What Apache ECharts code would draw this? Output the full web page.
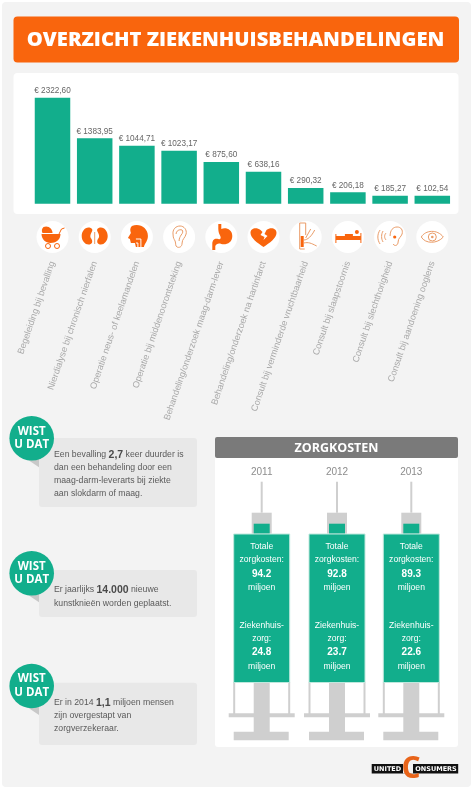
<!DOCTYPE html>
<html>
<head>
<meta charset="utf-8">
<title>Overzicht ziekenhuisbehandelingen</title>
<style>
  html, body { margin: 0; padding: 0; background: #fff; }
  #main { width: 474px; height: 792px; }
</style>
<script src="https://cdn.jsdelivr.net/npm/echarts@6/dist/echarts.min.js"></script>
</head>
<body>
<div id="main"></div>
<script>
const categories = [
  'Begeleiding bij bevalling',
  'Nierdialyse bij chronisch nierfalen',
  'Operatie neus- of keelamandelen',
  'Operatie bij middenoorontsteking',
  'Behandeling/onderzoek maag-darm-lever',
  'Behandeling/onderzoek na hartinfarct',
  'Consult bij verminderde vruchtbaarheid',
  'Consult bij slaapstoornis',
  'Consult bij slechthorigheid',
  'Consult bij aandoening ooglens'
]
// printed amounts
const amountLabels = ['2322,60', '1383,95', '1044,71', '1023,17', '875,60', '638,16', '290,32', '206,18', '185,27', '102,54']
// the source bars are not to scale with the printed amounts, so these are read off the bar heights
const barLevels = [2322.6, 1433, 1271, 1161, 914, 701, 344, 250, 175, 175]

const years = ['2011', '2012', '2013']
const totalCosts = ['94.2', '92.8', '89.3']
const hospitalCosts = ['24.8', '23.7', '22.6']

const facts = [
  ['Een bevalling {b|2,7} keer duurder is', 'dan een behandeling door een', 'maag-darm-leverarts bij ziekte', 'aan slokdarm of maag.'],
  ['Er jaarlijks {b|14.000} nieuwe', 'kunstknieën worden geplaatst.'],
  ['Er in 2014 {b|1,1} miljoen mensen', 'zijn overgestapt van', 'zorgverzekeraar.']
]

const GREEN = '#12ae8c'
const ORANGE = '#f9650d'
const PALE = '#ea9c68'
const GREY = '#cfcfcf'
const SANS = 'Arial, "Liberation Sans", sans-serif'
const HEAD = '"Open Sans", sans-serif'

const gridLeft = 31.4
const gridWidth = 422
const bandWidth = gridWidth / categories.length

// icon outlines, drawn around 0,0
const icons = [
  [
    { d: 'M-9 -10C-4 -12 0 -8 0 -4L-10 -4C-11 -6 -11 -8 -9 -10Z', fill: ORANGE },
    { d: 'M-11 -3L8 -3C8 3 3 6 -2 6C-7 6 -11 2 -11 -3Z', fill: ORANGE },
    { d: 'M6 -2L9 -8L12 -9', line: ORANGE },
    { d: 'M-2 9a2.5 2.5 0 1 0 -5 0a2.5 2.5 0 1 0 5 0M7 9a2.5 2.5 0 1 0 -5 0a2.5 2.5 0 1 0 5 0', line: ORANGE }
  ],
  [
    { d: 'M-4 -9C-9 -11 -13 -6 -13 -1C-13 5 -8 9 -4 7C-2 6 -2 3 -4 1C-5 -1 -4 -3 -3 -5C-2 -7 -2 -8 -4 -9Z', fill: ORANGE },
    { d: 'M4 -9C9 -11 13 -6 13 -1C13 5 8 9 4 7C2 6 2 3 4 1C5 -1 4 -3 3 -5C2 -7 2 -8 4 -9Z', fill: ORANGE },
    { d: 'M0 -5L0 7', line: PALE }
  ],
  [
    { d: 'M-5 -11C3 -14 11 -9 11 -1C11 4 8 6 7 10L-1 10L-2 6L-6 6L-7 2L-9 1L-6 -4C-7 -7 -7 -9 -5 -11Z', fill: ORANGE },
    { d: 'M-1 2L4 2L4 12M-1 6L1 6L1 12', line: '#fff' }
  ],
  [
    { d: 'M-6 -2C-7 -8 -3 -11 1 -11C5 -11 8 -7 7 -3C6 1 3 2 3 6C3 10 0 11 -2 10C-4 9 -3 7 -4 4C-5 2 -6 1 -6 -2Z', line: PALE },
    { d: 'M-3 -3C-3 -6 0 -8 3 -7C4 -6 4 -4 2 -2C1 0 0 1 0 4', line: PALE }
  ],
  [
    { d: 'M-3 -13L0 -13L0 -8C4 -10 11 -8 11 -1C11 6 5 8 0 7C-3 6 -5 7 -6 9L-6 13L-9 13L-9 7C-9 2 -6 1 -3 2C-1 3 0 1 -1 -1C-2 -3 -3 -5 -3 -8Z', fill: ORANGE }
  ],
  [
    { d: 'M0 10C-6 6 -13 1 -13 -4C-13 -9 -7 -10 -3 -7L-1 -5L-3 -2L1 0L0 3L4 -1L1 -3L3 -7C7 -10 13 -9 13 -4C13 1 6 6 0 10Z', fill: ORANGE }
  ],
  [
    { d: 'M-6 -14L0 -14L0 -2M-6 -14L-6 12L-1 12', line: PALE },
    { d: 'M-5 -1L-2 -1L-2 10L-5 10Z', fill: ORANGE },
    { d: 'M-2 3C2 3 6 -1 9 -7M-2 6C3 5 5 6 11 9M0 1L5 -8', line: PALE }
  ],
  [
    { d: 'M-12 -3L-12 6M13 -4L13 6', line: ORANGE },
    { d: 'M-12 -1L-3 -1L-3 -3L5 -3L5 -1L13 -1L13 3L-12 3Z', fill: ORANGE },
    { d: 'M7 -5a2 2 0 1 0 4 0a2 2 0 1 0 -4 0Z', fill: ORANGE }
  ],
  [
    { d: 'M0 -1C0 -7 3 -10 7 -10C11 -10 13 -7 12 -3C11 0 8 1 8 5C8 8 5 10 3 7', line: PALE },
    { d: 'M3 0a1.6 1.6 0 1 0 3.2 0a1.6 1.6 0 1 0 -3.2 0Z', fill: ORANGE },
    { d: 'M-4 -4C-6 -2 -6 1 -4 3M-7 -6C-9 -3 -9 2 -7 5M-10 -7C-13 -3 -13 3 -10 7', line: PALE }
  ],
  [
    { d: 'M-11 0C-7 -7 5 -8 11 0C5 7 -7 7 -11 0Z', line: PALE },
    { d: 'M-4 0a4 4 0 1 0 8 0a4 4 0 1 0 -8 0Z', line: PALE },
    { d: 'M-1.3 0a1.3 1.3 0 1 0 2.6 0a1.3 1.3 0 1 0 -2.6 0Z', fill: PALE }
  ]
]

const rect = (x, y, w, h, fill, r) => ({
  type: 'rect',
  shape: { x, y, width: w, height: h, r: r || 0 },
  style: { fill }
})
const label = (text, x, y, fill, font, align, rich) => ({
  type: 'text',
  z: 5,
  style: { text, x, y, fill, font, align: align || 'center', verticalAlign: 'middle', rich }
})

// the graphic component has no plain path type, so every outline gets its own shape class
icons.forEach((parts, i) => parts.forEach((p, j) => {
  p.name = 'icon' + i + '_' + j
  echarts.graphic.registerShape(p.name, echarts.graphic.extendPath(p.d, {}))
}))

const buildIcons = () => icons.map((parts, i) => ({
  type: 'group',
  x: gridLeft + bandWidth * (i + 0.5),
  y: 237,
  children: [{ type: 'circle', shape: { cx: 0, cy: 0, r: 16 }, style: { fill: '#fff' } }].concat(parts.map(p => ({
    type: p.name,
    style: p.fill ? { fill: p.fill } : { fill: 'none', stroke: p.line, lineWidth: 1 }
  })))
}))

const factLayout = [
  { top: 438, bottom: 507, cy: 438.3, lines: [455, 467.7, 480.7, 493.3] },
  { top: 570, bottom: 617, cy: 573.3, lines: [590, 603.3] },
  { top: 682.7, bottom: 745, cy: 686, lines: [702.7, 715.7, 728.3] }
]
const buildFacts = () => {
  const out = []
  facts.forEach((lines, i) => {
    const f = factLayout[i]
    out.push(rect(39, f.top, 158, f.bottom - f.top, '#e8e8e8', 3))
    out.push({
      type: 'polygon',
      shape: { points: [[27, f.cy + 21], [39, f.cy + 29], [39, f.cy + 20]] },
      style: { fill: '#c8c8c8' }
    })
    out.push({ type: 'circle', z: 3, shape: { cx: 31.7, cy: f.cy, r: 22.3 }, style: { fill: GREEN } })
    out.push(label('WIST', 31.7, f.cy - 7, '#fff', 'bold 11.5px ' + HEAD))
    out.push(label('U DAT', 31.7, f.cy + 6.5, '#fff', 'bold 11.5px ' + HEAD))
    lines.forEach((line, j) => {
      out.push(label(line, 54, f.lines[j], '#5a5a5a', '8.7px ' + SANS, 'left', {
        b: { font: 'bold 10.5px ' + SANS, fill: '#4a4a4a' }
      }))
    })
  })
  return out
}

const syringeCentres = [261.7, 337, 411.3]
const buildSyringes = () => {
  const out = [
    rect(215, 437, 243, 310, '#fff', 3),
    rect(215, 437, 243, 21, '#7a7a7a', 2),
    label('ZORGKOSTEN', 336.5, 448, '#fff', 'bold 12.5px ' + HEAD)
  ]
  years.forEach((year, i) => {
    const c = syringeCentres[i]
    const small = '8.6px ' + SANS
    out.push(
      label(year, c, 472.7, '#8c8c8c', '10px ' + SANS),
      rect(c - 1, 481.7, 2, 31, GREY),
      rect(c - 10, 512.7, 20, 21, GREY),
      rect(c - 8, 523.7, 16, 10, GREEN),
      rect(c - 28.5, 682, 2, 32, GREY),
      rect(c + 26.5, 682, 2, 32, GREY),
      rect(c - 33, 713.3, 66, 4, GREY),
      rect(c - 8, 682, 16, 50, GREY),
      rect(c - 28, 731.7, 55, 8.5, GREY),
      {
        type: 'rect',
        shape: { x: c - 28, y: 534, width: 56, height: 148.5 },
        style: { fill: GREEN, stroke: '#bfe8dd', lineWidth: 1 }
      },
      label('Totale', c, 546.7, '#fff', small),
      label('zorgkosten:', c, 559.3, '#fff', small),
      label(totalCosts[i], c, 574, '#fff', 'bold 10px ' + SANS),
      label('miljoen', c, 587.7, '#fff', small),
      label('Ziekenhuis-', c, 626, '#fff', small),
      label('zorg:', c, 638.7, '#fff', small),
      label(hospitalCosts[i], c, 652.7, '#fff', 'bold 10px ' + SANS),
      label('miljoen', c, 666.7, '#fff', small)
    )
  })
  return out
}

const buildLogo = () => [
  rect(371.7, 764, 86.5, 9.5, '#111'),
  label('UNITED', 387.5, 769, '#fff', 'bold 6.5px "DejaVu Sans"'),
  rect(403, 764, 10, 9.5, '#f3f3f3'),
  label('C', 411, 769.5, '#e8641a', 'bold 30px ' + HEAD),
  label('ONSUMERS', 436, 769, '#fff', 'bold 6.5px "DejaVu Sans"')
]

const graphics = [
  rect(2, 2, 469, 785, '#f3f3f3', 4),
  rect(13.5, 16.5, 445.5, 46, ORANGE, 4),
  label('OVERZICHT ZIEKENHUISBEHANDELINGEN', 235.5, 40, '#fff', '800 20.2px ' + HEAD),
  rect(13.5, 73, 445, 141, '#fff', 4)
].concat(buildIcons(), buildFacts(), buildSyringes(), buildLogo())

const myChart = echarts.init(document.getElementById('main'), null, { renderer: 'canvas' })
myChart.setOption({
  animation: false,
  grid: { left: gridLeft, width: gridWidth, top: 97.7, height: 106, containLabel: false },
  xAxis: {
    type: 'category',
    data: categories,
    axisLine: { show: false },
    axisTick: { show: false },
    axisLabel: {
      interval: 0,
      rotate: 71,
      margin: 58,
      padding: [5, 0, 0, 0],
      color: '#a8a8a8',
      fontSize: 9.1,
      fontFamily: SANS
    }
  },
  yAxis: { type: 'value', show: false, min: 0, max: barLevels[0], splitLine: { show: false } },
  series: [{
    type: 'bar',
    data: barLevels,
    barWidth: 35.5,
    itemStyle: { color: GREEN },
    label: {
      show: true,
      position: 'top',
      distance: 3,
      color: '#666',
      fontSize: 8.2,
      fontFamily: SANS,
      formatter: p => '€ ' + amountLabels[p.dataIndex]
    }
  }],
  graphic: graphics
})
</script>
</body>
</html>
